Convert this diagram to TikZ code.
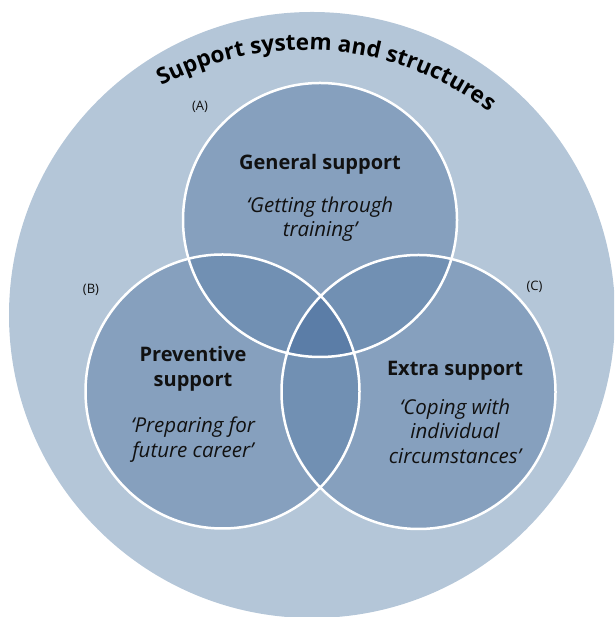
\documentclass[tikz,border=0pt]{standalone}
\usepackage{fontspec}
\setmainfont{Open Sans}
\usetikzlibrary{decorations.text}
\definecolor{outerblue}{HTML}{B4C6D8}
\definecolor{ringblue}{HTML}{86A0BE}
\definecolor{pairblue}{HTML}{7190B3}
\definecolor{coreblue}{HTML}{5B7DA7}
\definecolor{inkblack}{HTML}{111111}

\begin{document}
\begin{tikzpicture}[x=1pt, y=1pt,
    support/.style={font=\fontsize{20}{25.5}\selectfont\bfseries, align=center, text=inkblack},
    quote/.style={font=\fontsize{20.5}{24.5}\selectfont\itshape, align=center, text=inkblack},
    tag/.style={font=\fontsize{13}{13}\selectfont, text=inkblack}]
\useasboundingbox (0,0) rectangle (614,617);
\clip (0,0) rectangle (614,617);

% Circle centres
\coordinate (sys) at (312,302);
\coordinate (gen) at (320,397);
\coordinate (pre) at (222.5,225.5);
\coordinate (ext) at (418.5,225);

% Outer support system
\fill[outerblue] (sys) circle (303pt);

% Three support circles with their overlaps
\foreach \c in {gen,pre,ext}
    \fill[ringblue] (\c) circle (137pt);
\foreach \a/\b in {gen/pre, gen/ext, pre/ext} {
    \begin{scope}
        \clip (\a) circle (137pt);
        \fill[pairblue] (\b) circle (137pt);
    \end{scope}
}
\begin{scope}
    \clip (gen) circle (137pt);
    \clip (pre) circle (137pt);
    \fill[coreblue] (ext) circle (137pt);
\end{scope}
\foreach \c in {gen,pre,ext}
    \draw[white, line width=2.5pt] (\c) circle (137pt);

% Title along the arc
\path[decorate, decoration={text along path, text align=center,
    text={|\fontsize{22.5}{22.5}\selectfont\bfseries|Support system and structures}}]
    (305,262) ++(122:305) arc[start angle=122, end angle=49, radius=305];

% Texts
\node[support] (genname) at (320,452.5) {General support};
\node[quote] (genquote) at (320,398) {‘Getting through\\training’};

\node[support] (prename) at (193,248) {Preventive\\support};
\node[quote] (prequote) at (193,177.5) {‘Preparing for\\future career’};

\node[support] (extname) at (455,246.5) {Extra support};
\node[quote] (extquote) at (455,186) {‘Coping with\\individual\\circumstances’};

% Labels
\node[tag] (tagA) at (200,510.5) {(A)};
\node[tag] (tagB) at (91,327) {(B)};
\node[tag] (tagC) at (534.5,330) {(C)};
\end{tikzpicture}
\end{document}
